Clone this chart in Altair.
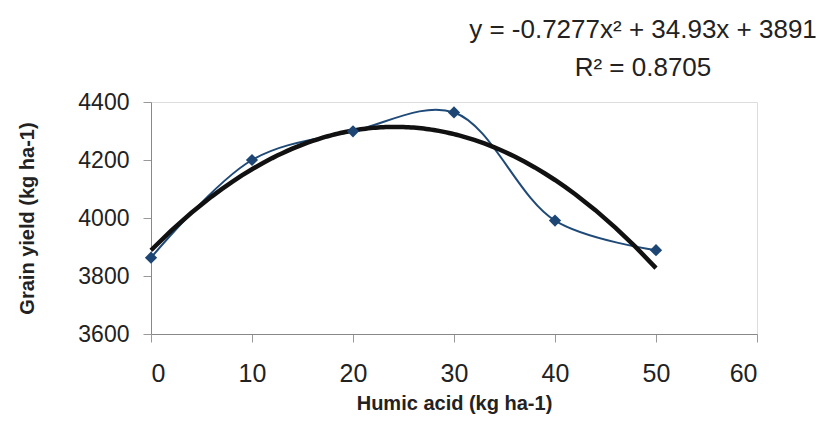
import altair as alt
import pandas as pd

humic = [0, 10, 20, 30, 40, 50]
grain = [3863, 4200, 4299, 4364, 3991, 3889]
x_ticks = [0, 10, 20, 30, 40, 50, 60]
y_ticks = [3600, 3800, 4000, 4200, 4400]
eq_line1 = "y = -0.7277x\u00b2 + 34.93x + 3891"
eq_line2 = "R\u00b2 = 0.8705"

df = pd.DataFrame({"humic": humic, "grain": grain})
FONT = "Liberation Sans"

xs = alt.Scale(domain=[0, 60], nice=False)
ys = alt.Scale(domain=[3600, 4400], nice=False, zero=False)

xax = alt.Axis(values=x_ticks, title="Humic acid (kg ha-1)", grid=False, format="d",
               labelFontSize=25, labelFont=FONT, labelColor="#222",
               titleFontSize=20, titleFont=FONT, titleFontWeight="bold",
               titleColor="#222", titlePadding=7, labelPadding=19,
               domainColor="#888", tickColor="#999", tickSize=8)
yax = alt.Axis(values=y_ticks, title="Grain yield (kg ha-1)", grid=False, format="d",
               labelFontSize=23, labelFont=FONT, labelColor="#222",
               titleFontSize=20, titleFont=FONT, titleFontWeight="bold",
               titleColor="#222", titlePadding=40, labelPadding=14,
               domainColor="#888", tickColor="#999", tickSize=8)

base = alt.Chart(df)

smooth = base.mark_line(color="#1f4a78", strokeWidth=2, interpolate="catmull-rom").encode(
    x=alt.X("humic:Q", scale=xs, axis=xax),
    y=alt.Y("grain:Q", scale=ys, axis=yax),
)
pts = base.mark_point(shape="diamond", filled=True, size=150, color="#1d4674", opacity=1).encode(
    x=alt.X("humic:Q", scale=xs, axis=xax),
    y=alt.Y("grain:Q", scale=ys, axis=yax),
)
trend = base.transform_regression("humic", "grain", method="poly", order=2).mark_line(
    color="#111", strokeWidth=4.5).encode(
    x=alt.X("humic:Q", scale=xs, axis=xax),
    y=alt.Y("grain:Q", scale=ys, axis=yax),
)

eq1 = alt.Chart(pd.DataFrame({"t": [eq_line1]})).mark_text(
    font=FONT, fontSize=26, color="#222", align="center", baseline="middle").encode(
    text="t:N", x=alt.value(492), y=alt.value(-72))
eq2 = alt.Chart(pd.DataFrame({"t": [eq_line2]})).mark_text(
    font=FONT, fontSize=26, color="#222", align="center", baseline="middle").encode(
    text="t:N", x=alt.value(492), y=alt.value(-34))

chart = alt.layer(smooth, trend, pts, eq1, eq2).properties(
    width=606, height=232,
    autosize=alt.AutoSizeParams(type="none"),
    padding={"left": 143, "top": 94, "right": 65, "bottom": 84},
).configure_view(stroke=None).configure(background="white")

chart.save("out.html", embed_options={"renderer": "svg", "actions": False})
